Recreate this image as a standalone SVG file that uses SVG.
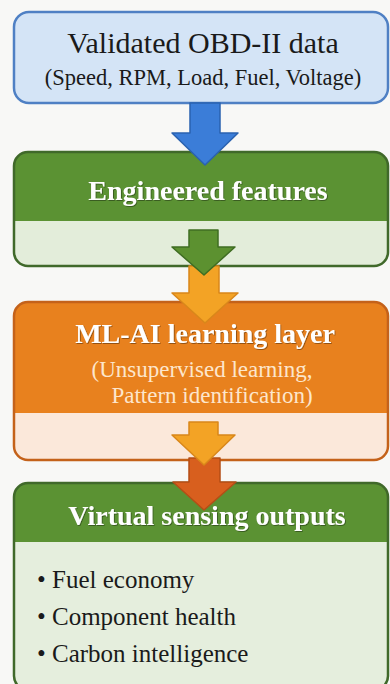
<svg xmlns="http://www.w3.org/2000/svg" width="390" height="684" viewBox="0 0 390 684">
<defs>
  <filter id="shadow" x="-5%" y="-20%" width="110%" height="140%">
    <feDropShadow dx="0.8" dy="0.8" stdDeviation="0.6" flood-color="#000000" flood-opacity="0.45"/>
  </filter>
</defs>
<style>
  .serif { font-family: "Liberation Serif", "Times New Roman", serif; }
  .dark { fill: #1a1a1a; }
  .white { fill: #ffffff; font-weight: bold; filter: url(#shadow); }
  .outline { fill: none; stroke-width: 2.5; }
</style>
<rect x="0" y="0" width="390" height="684" fill="#f8f8f6"/>

<g id="node-obd">
  <rect x="14" y="12" width="374" height="91" rx="15" fill="#d4e4f6" stroke="#4f80c4" stroke-width="2.5"/>
  <text class="serif dark" x="203" y="53" font-size="30" text-anchor="middle">Validated OBD-II data</text>
  <text class="serif dark" x="203" y="85" font-size="22.5" text-anchor="middle">(Speed, RPM, Load, Fuel, Voltage)</text>
</g>

<g id="node-features">
  <rect x="14" y="152" width="374" height="114" rx="14" fill="#5b9233"/>
  <path d="M14,221 H388 V252 A14,14 0 0 1 374,266 H28 A14,14 0 0 1 14,252 Z" fill="#e3edda"/>
  <rect class="outline" x="14" y="152" width="374" height="114" rx="14" stroke="#40692a"/>
  <text class="serif white" x="208" y="200" font-size="28" text-anchor="middle">Engineered features</text>
</g>

<g id="node-ml">
  <rect x="14" y="302" width="374" height="158" rx="14" fill="#e8811e"/>
  <path d="M14,413 H388 V446 A14,14 0 0 1 374,460 H28 A14,14 0 0 1 14,446 Z" fill="#fbe8da"/>
  <rect class="outline" x="14" y="302" width="374" height="158" rx="14" stroke="#c4621a"/>
  <text class="serif white" x="205" y="343" font-size="28" text-anchor="middle">ML-AI learning layer</text>
  <text class="serif" x="202" y="377" font-size="23" text-anchor="middle" fill="#fde6cc">(Unsupervised learning,</text>
  <text class="serif" x="212" y="403" font-size="23" text-anchor="middle" fill="#fde6cc">Pattern identification)</text>
</g>

<g id="node-outputs">
  <rect x="14" y="483" width="374" height="207" rx="14" fill="#5b9233"/>
  <path d="M14,542 H388 V676 A14,14 0 0 1 374,690 H28 A14,14 0 0 1 14,676 Z" fill="#e5eedd"/>
  <rect class="outline" x="14" y="483" width="374" height="207" rx="14" stroke="#40692a"/>
  <text class="serif white" x="207" y="525" font-size="28" text-anchor="middle">Virtual sensing outputs</text>
  <text class="serif dark" x="37" y="588" font-size="25">• Fuel economy</text>
  <text class="serif dark" x="37" y="625" font-size="25">• Component health</text>
  <text class="serif dark" x="37" y="662" font-size="25">• Carbon intelligence</text>
</g>

<g id="connectors" stroke-width="1.5" stroke-linejoin="round">
  <polygon points="190,103 220,103 220,133 238,133 205,165 172,133 190,133" fill="#3b7dd8" stroke="#2a62b0"/>
  <polygon points="189,266 219,266 219,293 238,293 205,323 172,293 189,293" fill="#f3a325" stroke="#d9871a"/>
  <polygon points="189,230 218,230 218,247 235,247 204,275 172,247 189,247" fill="#5c9130" stroke="#3f6d22"/>
  <polygon points="189,458 220,458 220,482 236,482 204,510 173,482 189,482" fill="#d85f1e" stroke="#b44e16"/>
  <polygon points="189,422 218,422 218,435 235,435 204,465 172,435 189,435" fill="#f3a325" stroke="#d9871a"/>
</g>
</svg>
